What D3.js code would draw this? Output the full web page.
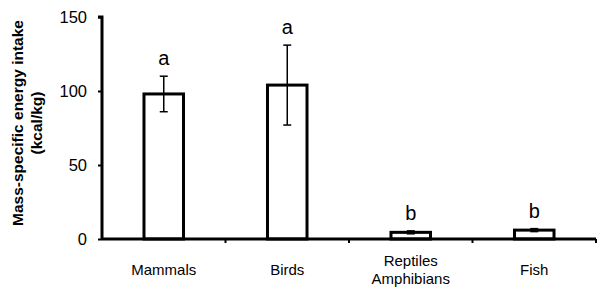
<!DOCTYPE html>
<html>
<head>
<meta charset="utf-8">
<script src="https://cdn.jsdelivr.net/npm/d3@7"></script>
<style>
    body { margin: 0; background: #fff; }
    svg text { font-family: Arial, "Liberation Sans", sans-serif; fill: #000; }
</style>
</head>
<body>
<div id="chart"></div>
<script>
// data
const categories = ['Mammals', 'Birds', 'Reptiles\nAmphibians', 'Fish'];
const means = [98, 104, 4.5, 6];
const errors = [12, 27, 1, 1];
const letters = ['a', 'a', 'b', 'b'];
const yTicks = [0, 50, 100, 150];

const margin = {top: 17, right: 2, bottom: 48, left: 102};
const width = 598 - margin.left - margin.right;
const height = 287 - margin.top - margin.bottom;

const svg = d3.select('#chart')
    .append('svg')
    .attr('width', 598)
    .attr('height', 287);

const g = svg.append('g')
    .attr('transform', 'translate(' + margin.left + ',' + margin.top + ')');

const x = d3.scaleBand()
    .domain(categories)
    .range([0, width])
    .paddingInner(0.68)
    .paddingOuter(0.34);

const y = d3.scaleLinear()
    .domain([0, 150])
    .range([height, 0]);

// bars
g.selectAll('.bar')
    .data(categories)
    .enter()
    .append('rect')
    .attr('class', 'bar')
    .attr('x', (d) => x(d))
    .attr('width', x.bandwidth())
    .attr('y', (d, i) => y(means[i]))
    .attr('height', (d, i) => y(0) - y(means[i]))
    .attr('fill', '#fff')
    .attr('stroke', '#000')
    .attr('stroke-width', 3);

// error bars
const cx = (d) => x(d) + x.bandwidth() / 2;
const eb = g.selectAll('.err')
    .data(categories)
    .enter()
    .append('g')
    .attr('class', 'err')
    .attr('stroke', '#000')
    .attr('stroke-width', 1.5);

eb.append('line')
    .attr('x1', cx).attr('x2', cx)
    .attr('y1', (d, i) => y(means[i] - errors[i]))
    .attr('y2', (d, i) => y(means[i] + errors[i]));
eb.append('line')
    .attr('x1', (d) => cx(d) - 4).attr('x2', (d) => cx(d) + 4)
    .attr('y1', (d, i) => y(means[i] + errors[i]))
    .attr('y2', (d, i) => y(means[i] + errors[i]));
eb.append('line')
    .attr('x1', (d) => cx(d) - 4).attr('x2', (d) => cx(d) + 4)
    .attr('y1', (d, i) => y(means[i] - errors[i]))
    .attr('y2', (d, i) => y(means[i] - errors[i]));

// significance letters
g.selectAll('.letter')
    .data(categories)
    .enter()
    .append('text')
    .attr('class', 'letter')
    .attr('x', cx)
    .attr('y', (d, i) => y(means[i] + errors[i]) - 11)
    .attr('text-anchor', 'middle')
    .style('font-size', '20px')
    .text((d, i) => letters[i]);

// y axis
const yAxis = d3.axisLeft(y)
    .tickValues(yTicks)
    .tickSize(4)
    .tickPadding(11);
const yg = g.append('g').call(yAxis);
yg.select('.domain').attr('stroke-width', 3).attr('d', 'M-4,0H0V' + height);
yg.selectAll('.tick line').attr('stroke-width', 2);
yg.selectAll('.tick text').style('font-size', '16.5px');

// x axis: ticks sit on the category boundaries
const xg = g.append('g')
    .attr('transform', 'translate(0,' + height + ')');
xg.append('line')
    .attr('x1', 0).attr('x2', width)
    .attr('stroke', '#000')
    .attr('stroke-width', 3);
const step = x.step();
xg.selectAll('.xtick')
    .data(categories)
    .enter()
    .append('line')
    .attr('x1', (d) => x(d) - x.paddingOuter() * step + step)
    .attr('x2', (d) => x(d) - x.paddingOuter() * step + step)
    .attr('y1', 0).attr('y2', 4)
    .attr('stroke', '#000')
    .attr('stroke-width', 2);

xg.selectAll('.xlabel')
    .data(categories)
    .enter()
    .append('text')
    .attr('class', 'xlabel')
    .attr('x', cx)
    .attr('text-anchor', 'middle')
    .style('font-size', '15px')
    .each(function(d) {
        const lines = d.split('\n');
        const t = d3.select(this);
        const y0 = lines.length > 1 ? 27 : 36;
        lines.forEach((ln, k) => {
            t.append('tspan')
                .attr('x', cx(d))
                .attr('y', y0 + k * 18)
                .text(ln);
        });
    });

// y title
const title = svg.append('text')
    .attr('transform', 'translate(18,123) rotate(-90)')
    .attr('text-anchor', 'middle')
    .style('font-size', '15.5px')
    .style('font-weight', 'bold');
title.append('tspan').attr('x', 0).attr('dy', 5).text('Mass-specific energy intake');
title.append('tspan').attr('x', 0).attr('dy', 19).text('(kcal/kg)');
</script>
</body>
</html>
